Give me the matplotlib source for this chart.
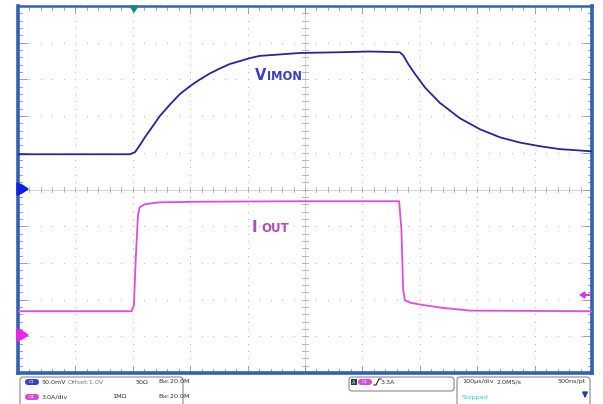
import matplotlib
matplotlib.use("Agg")
import matplotlib.pyplot as plt
from matplotlib.patches import FancyBboxPatch, Polygon, Rectangle

# ---------------- data ----------------
# time relative to trigger, microseconds (100 us/div, trigger 2.02 div from left)
vimon_t = [-202, -100, -7, 2, 10, 19, 28, 45, 63, 80, 98, 115, 132, 150, 167, 185,
           202, 219, 254, 289, 359, 411, 463, 469, 477, 490, 507, 533, 568, 603,
           638, 672, 707, 742, 798]
vimon_v = [1.048, 1.048, 1.048, 1.051, 1.060, 1.071, 1.081, 1.100, 1.116, 1.130,
           1.141, 1.150, 1.158, 1.165, 1.171, 1.175, 1.179, 1.182, 1.184, 1.186,
           1.187, 1.188, 1.187, 1.183, 1.172, 1.157, 1.139, 1.118, 1.097, 1.082,
           1.071, 1.064, 1.059, 1.055, 1.052]

iout_t = [-202, -100, -4, 0, 3, 7, 10, 19, 45, 115, 289, 462, 466, 469, 472,
          481, 498, 533, 585, 798]
iout_a = [2.05, 2.05, 2.05, 2.55, 6.2, 9.9, 10.55, 10.8, 10.95, 11.0, 11.04,
          11.04, 8.7, 3.8, 2.95, 2.75, 2.6, 2.35, 2.1, 2.05]

status_row1 = ["50.0mV", "Offset:1.0V", "50Ω", "B$_W$:20.0M"]
status_row2 = ["3.0A/div", "1MΩ", "B$_W$:20.0M"]
trig_text = "3.3A"
timebase = ["100µs/div", "2.0MS/s", "500ns/pt"]
state = "Stopped"

# ---------------- figure ----------------
W, H = 603, 404
fig = plt.figure(figsize=(W / 100, H / 100), dpi=100)
fig.patch.set_facecolor("white")

L, R, T, B = 18, 592, 6, 373
pos = [L / W, 1 - B / H, (R - L) / W, (B - T) / H]

ax = fig.add_axes(pos)
ax.set_xlim(0, 10)
ax.set_ylim(-5, 5)
ax.set_xticks([])
ax.set_yticks([])
for s in ax.spines.values():
    s.set_color("#2f62b4")
    s.set_linewidth(2.6)
ax.spines["top"].set_linewidth(1.8)

gridc = "#bcbcbc"
# dotted graticule
for k in range(1, 10):
    if k == 5:
        continue
    xs = [i * 0.2 for i in range(1, 50)]
    ax.plot(xs, [k - 5] * len(xs), ls="none", marker="s", ms=0.8, color=gridc, mew=0)
    ys = [-5 + i * 0.2 for i in range(1, 50)]
    ax.plot([k] * len(ys), ys, ls="none", marker="s", ms=0.8, color=gridc, mew=0)

# centre axes with ticks
ax.axhline(0, color="#cccccc", lw=0.6)
ax.axvline(5, color="#cccccc", lw=0.6)
for i in range(1, 50):
    x = i * 0.2
    ax.plot([x, x], [-0.07, 0.07], color="#a8a8a8", lw=0.6)
    y = -5 + i * 0.2
    ax.plot([4.955, 5.045], [y, y], color="#a8a8a8", lw=0.6)

# border ticks (inside)
for i in range(1, 50):
    major = (i % 5 == 0)
    x = i * 0.2
    ly = 0.2 if major else 0.1
    ax.plot([x, x], [5, 5 - ly], color="#909090", lw=0.6)
    ax.plot([x, x], [-5, -5 + ly], color="#909090", lw=0.6)
    y = -5 + i * 0.2
    lx = 0.15 if major else 0.07
    ax.plot([0, lx], [y, y], color="#909090", lw=0.6)
    ax.plot([10, 10 - lx], [y, y], color="#909090", lw=0.6)

# channel axes (own scales)
axv = fig.add_axes(pos, frameon=False)
axv.set_xlim(-202, 798)
axv.set_ylim(0.75, 1.25)     # 50 mV/div, offset 1.0 V
axv.axis("off")
axv.plot(vimon_t, vimon_v, color="#26269a", lw=1.3, solid_joinstyle="round")

axi = fig.add_axes(pos, frameon=False)
axi.set_xlim(-202, 798)
axi.set_ylim(-3, 27)         # 3 A/div, ground at -4 div
axi.axis("off")
axi.plot(iout_t, iout_a, color="#e04ce0", lw=1.3, solid_joinstyle="round")

# ---------------- overlay in pixel coordinates ----------------
ov = fig.add_axes([0, 0, 1, 1], frameon=False)
ov.set_xlim(0, W)
ov.set_ylim(H, 0)
ov.axis("off")

# trace labels
ov.text(255, 80, "V", color="#3a3fc4", fontsize=10.5, fontweight="bold", va="baseline")
ov.text(267.5, 80, "IMON", color="#3a3fc4", fontsize=8.3, fontweight="bold", va="baseline")
ov.text(252, 232, "I", color="#b24cb8", fontsize=11, fontweight="bold", va="baseline")
ov.text(261, 232, "OUT", color="#b24cb8", fontsize=8.5, fontweight="bold", va="baseline")

# ground markers
ov.add_patch(Polygon([[17, 183], [22, 185], [28, 189], [22, 193], [17, 195]],
                     closed=True, color="#1020e0", zorder=5))
ov.add_patch(Polygon([[17, 329], [22, 331], [28, 335], [22, 339], [17, 341]],
                     closed=True, color="#f020f0", zorder=5))
# trigger level arrow (right)
ov.add_patch(Polygon([[580, 295], [585, 292], [585, 298]], closed=True, color="#e030e0", zorder=5))
ov.plot([584, 590], [295, 295], color="#e030e0", lw=1.4)
# trigger position marker (top)
ov.add_patch(Polygon([[130, 6], [138, 6], [134, 12]], closed=True, color="#138a78", zorder=5))

# ---------------- status bar ----------------
def box(x0, y0, x1, y1):
    ov.add_patch(FancyBboxPatch((x0, y0), x1 - x0, y1 - y0,
                                boxstyle="round,pad=0,rounding_size=3",
                                fc="white", ec="#8a8a8a", lw=0.8))

def pill(x, y, color, label):
    ov.add_patch(FancyBboxPatch((x, y - 3), 14, 6, boxstyle="round,pad=0,rounding_size=3",
                                fc=color, ec="none"))
    ov.text(x + 7, y + 0.3, label, color="white", fontsize=3.2, ha="center", va="center")

fs = 4.6
tc = "#333333"
box(20, 377, 183, 406)
pill(25, 382, "#3a3fc8", "C1")
pill(25, 397, "#d84cd8", "C4")
ov.text(42, 382, status_row1[0], fontsize=fs, color=tc, va="center")
ov.text(68, 382, status_row1[1], fontsize=fs, color="#7a7a7a", va="center")
ov.text(135, 382, status_row1[2], fontsize=fs, color=tc, va="center")
ov.text(158, 382, status_row1[3], fontsize=fs, color=tc, va="center")
ov.text(42, 397, status_row2[0], fontsize=fs, color=tc, va="center")
ov.text(112, 397, status_row2[1], fontsize=fs, color=tc, va="center")
ov.text(158, 397, status_row2[2], fontsize=fs, color=tc, va="center")

box(349, 377, 454, 391)
ov.add_patch(Rectangle((351, 379), 6, 6, fc="#2a3a5a", ec="none"))
ov.text(354, 382.3, "A", fontsize=3.5, color="white", ha="center", va="center")
pill(358, 382, "#d84cd8", "C4")
ov.plot([374, 376, 379, 381], [385, 385, 379, 379], color="#222222", lw=0.8)
ov.text(381, 382, trig_text, fontsize=fs, color=tc, va="center")

box(457, 377, 590, 406)
ov.text(462, 382, timebase[0], fontsize=fs, color=tc, va="center")
ov.text(497, 382, timebase[1], fontsize=fs, color=tc, va="center")
ov.text(557, 382, timebase[2], fontsize=fs, color=tc, va="center")
ov.text(462, 397, state, fontsize=fs, color="#38c4d4", va="center")
ov.annotate("", xy=(585, 401), xytext=(585, 392),
            arrowprops=dict(arrowstyle="-|>,head_width=0.15,head_length=0.3",
                            color="#2040a8", lw=1.2))

fig.savefig("out.png", dpi=100, facecolor="white")
